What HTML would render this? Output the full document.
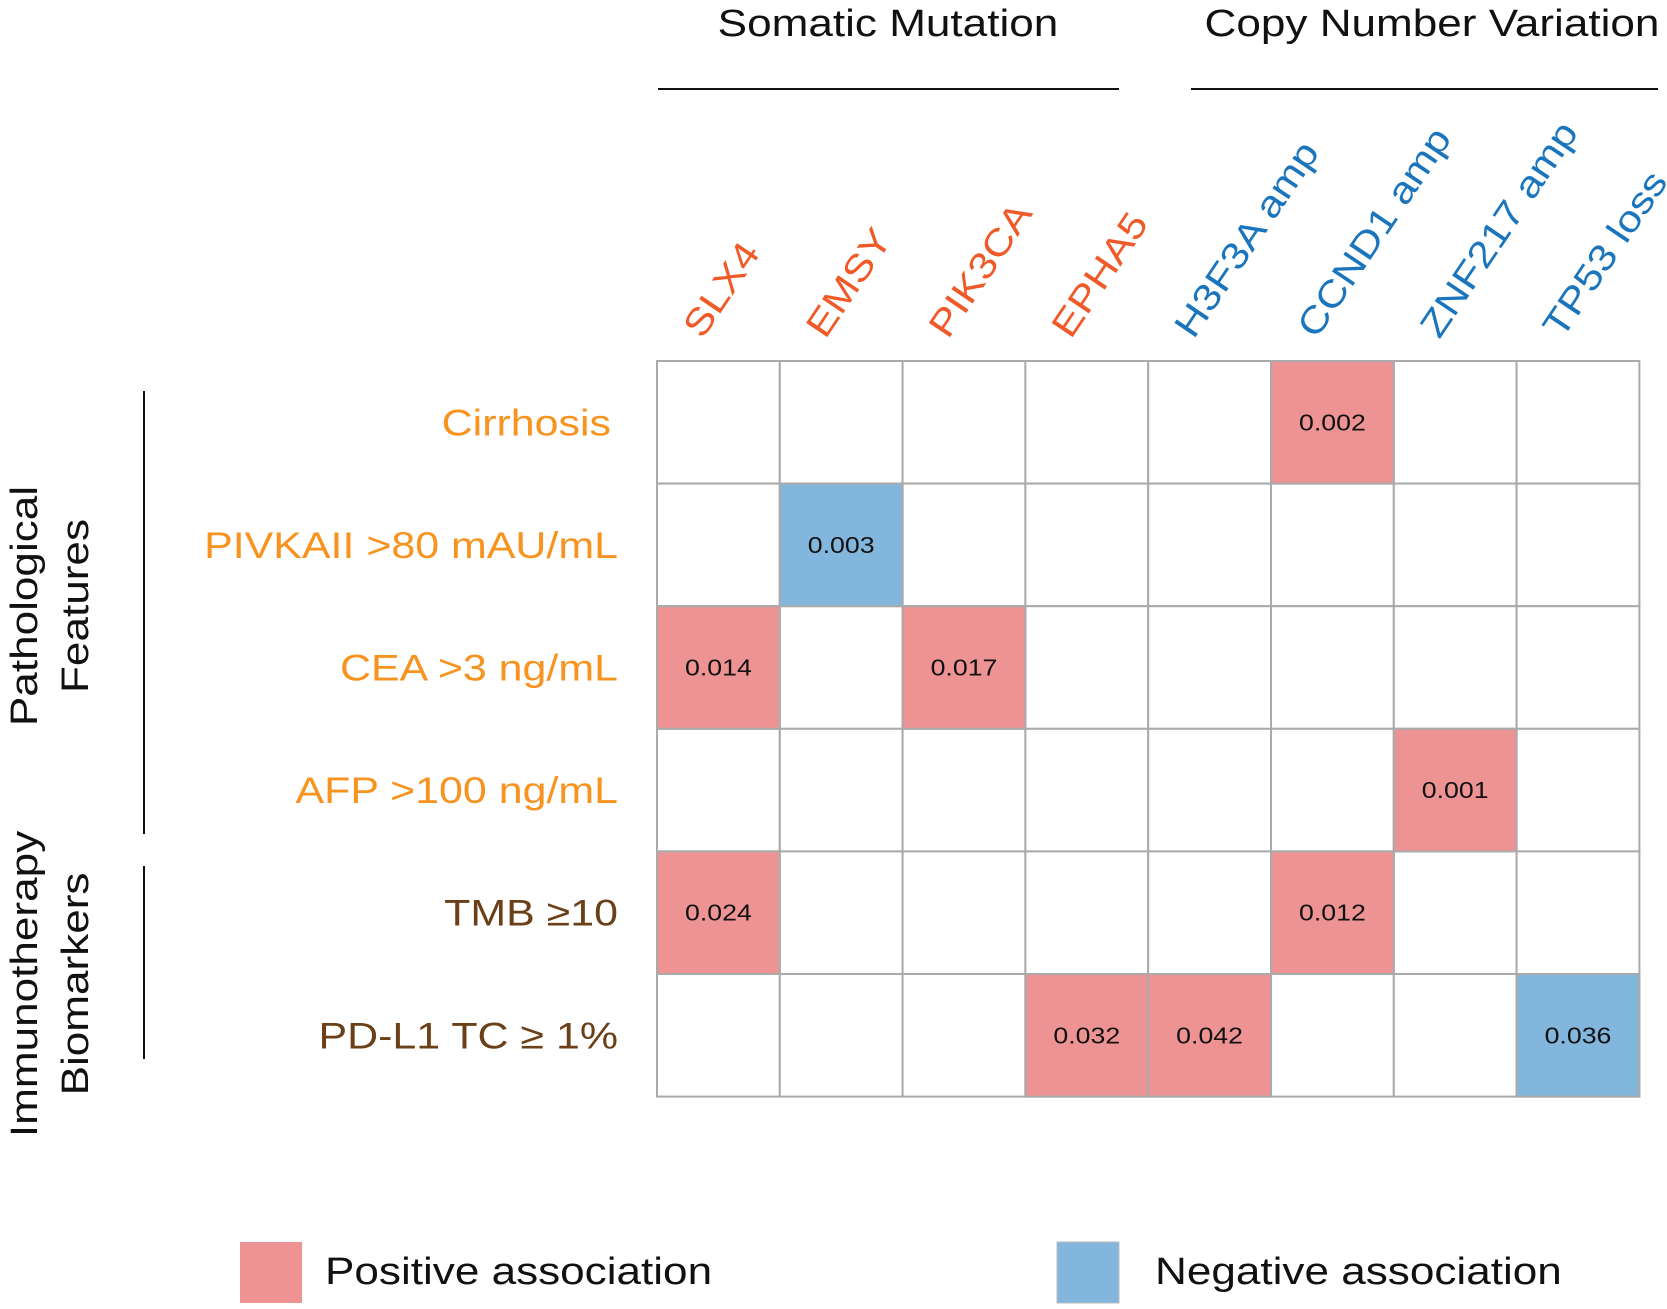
<!DOCTYPE html>
<html><head><meta charset="utf-8"><style>
body{margin:0;background:#fff}
svg{display:block;font-family:"Liberation Sans",Arial,sans-serif}
</style></head><body>
<svg width="1667" height="1309" viewBox="0 0 1667 1309" id="chart">
<g>
<text class="st" x="888" y="36" font-size="38" text-anchor="middle" fill="#111">Somatic Mutation</text>
<line x1="658" y1="89" x2="1119" y2="89" stroke="#111" stroke-width="2"/>
<text class="st" x="1432" y="36" font-size="38" text-anchor="middle" fill="#111">Copy Number Variation</text>
<line x1="1191" y1="89" x2="1658" y2="89" stroke="#111" stroke-width="2"/>
</g>
<g>
<line x1="144" y1="391" x2="144" y2="834" stroke="#111" stroke-width="2"/>
<line x1="144" y1="866" x2="144" y2="1059" stroke="#111" stroke-width="2"/>
<text class="st" transform="translate(37,606) rotate(-90)" font-size="38" text-anchor="middle" fill="#111">Pathological</text>
<text class="st" transform="translate(88,606) rotate(-90)" font-size="38" text-anchor="middle" fill="#111">Features</text>
<text class="st" transform="translate(37,984) rotate(-90)" font-size="38" text-anchor="middle" fill="#111">Immunotherapy</text>
<text class="st" transform="translate(88,984) rotate(-90)" font-size="38" text-anchor="middle" fill="#111">Biomarkers</text>
</g>
<g id="grid"></g>
<g id="collabels"></g>
<g id="rowlabels"></g>
<g>
<rect x="240" y="1242" width="62" height="61" fill="#ee9393"/>
<text class="st" x="325" y="1284" font-size="38" fill="#111">Positive association</text>
<rect x="1057" y="1242" width="62" height="61" fill="#82b6dc" stroke="#bbb" stroke-width="1"/>
<text class="st" x="1155" y="1284" font-size="38" fill="#111">Negative association</text>
</g>
</svg>
<script>
const columns=["SLX4","EMSY","PIK3CA","EPHA5","H3F3A amp","CCND1 amp","ZNF217 amp","TP53 loss"];
const columnTypes=["mut","mut","mut","mut","cnv","cnv","cnv","cnv"];
const rows=["Cirrhosis","PIVKAII >80 mAU/mL","CEA >3 ng/mL","AFP >100 ng/mL","TMB \u226510","PD-L1 TC \u2265 1%"];
const rowTypes=["path","path","path","path","immuno","immuno"];
const cellRow=[0,1,2,2,3,4,4,5,5,5];
const cellCol=[5,1,0,2,6,0,5,3,4,7];
const cellP=["0.002","0.003","0.014","0.017","0.001","0.024","0.012","0.032","0.042","0.036"];
const cellSign=[1,-1,1,1,1,1,1,1,1,-1];

const NS="http://www.w3.org/2000/svg";
const X0=657,Y0=361,CW=122.8,RH=122.6,SX=1.16;
function xOf(c){return X0+c*CW;}
function yOf(r){return Y0+r*RH;}
function mk(t,a){const e=document.createElementNS(NS,t);for(const k in a)e.setAttribute(k,a[k]);return e;}
const grid=document.getElementById('grid');
for(let r=0;r<rows.length;r++)for(let c=0;c<columns.length;c++){
  const e=mk('rect',{x:xOf(c),y:yOf(r),width:CW,height:RH,fill:'#fff',stroke:'#aaa','stroke-width':2});
  
  
  grid.appendChild(e);
}
for(let i=0;i<cellP.length;i++){
  const x=xOf(cellCol[i]),y=yOf(cellRow[i]);
  const e=mk('rect',{x:x,y:y,width:CW,height:RH,fill:cellSign[i]>0?'#ee9393':'#82b6dc',stroke:'#aaa','stroke-width':2});
  
  
  grid.appendChild(e);
  const t=mk('text',{x:x+CW/2,y:y+RH/2+8,'font-size':23,'text-anchor':'middle',fill:'#111','class':'st'});
  t.textContent=cellP[i];
  
  
  grid.appendChild(t);
}
const cl=document.getElementById('collabels');
columns.forEach((n,c)=>{
  const x=xOf(c)+CW/2-16,y=340;
  const t=mk('text',{transform:`translate(${x},${y}) rotate(-56)`,'font-size':37,fill:columnTypes[c]==='mut'?'#f05a28':'#1b75bc','class':'st'});
  t.textContent=n;
  
  
  cl.appendChild(t);
});
const rl=document.getElementById('rowlabels');
rows.forEach((n,r)=>{
  const t=mk('text',{x:r===0?611:618,y:yOf(r)+RH/2+13,'font-size':37,'text-anchor':'end',fill:rowTypes[r]==='path'?'#f7931e':'#6b3f17','class':'st'});
  t.textContent=n;
  
  
  rl.appendChild(t);
});
document.querySelectorAll('text.st').forEach(t=>{
  const w=t.getComputedTextLength();
  t.setAttribute('textLength',(w*SX).toFixed(1));
  t.setAttribute('lengthAdjust','spacingAndGlyphs');
});
</script>
</body></html>
